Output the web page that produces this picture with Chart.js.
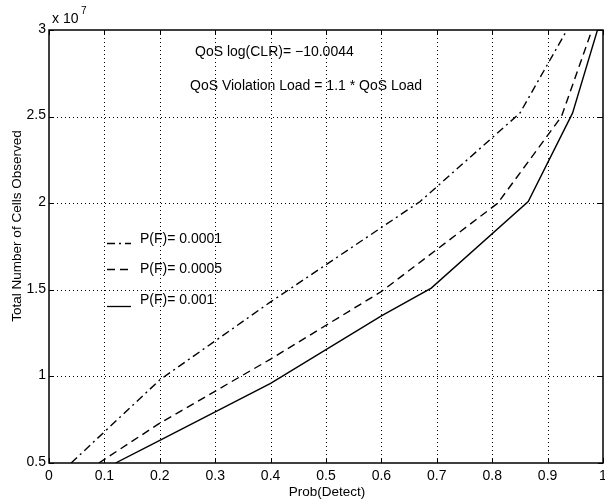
<!DOCTYPE html>
<html>
<head>
<meta charset="utf-8">
<script src="https://cdn.jsdelivr.net/npm/chart.js@4.4.1/dist/chart.umd.min.js"></script>
<style>
  html, body { margin: 0; padding: 0; background: #fff; }
</style>
</head>
<body>
<canvas id="chart" width="605" height="504"></canvas>
<script>
// tick values / labels
const xTicks = [0, 0.1, 0.2, 0.3, 0.4, 0.5, 0.6, 0.7, 0.8, 0.9, 1];
const xTickLabels = ['0', '0.1', '0.2', '0.3', '0.4', '0.5', '0.6', '0.7', '0.8', '0.9', '1'];
const yTicks = [0.5, 1, 1.5, 2, 2.5, 3];
const yTickLabels = ['0.5', '1', '1.5', '2', '2.5', '3'];

// series (cells observed in units of 10^7)
const seriesNames = ['P(F)= 0.0001', 'P(F)= 0.0005', 'P(F)= 0.001'];
const detect0001 = [0.04, 0.2, 0.4, 0.67, 0.85, 0.935];
const cells0001 = [0.5, 0.98, 1.43, 2.01, 2.52, 3.0];
const detect0005 = [0.09, 0.2, 0.4, 0.6, 0.81, 0.925, 0.98];
const cells0005 = [0.5, 0.73, 1.1, 1.49, 2.0, 2.5, 3.0];
const detect001 = [0.12, 0.2, 0.4, 0.6, 0.69, 0.865, 0.945, 0.99];
const cells001 = [0.5, 0.63, 0.96, 1.35, 1.51, 2.01, 2.52, 3.0];

const dashes = [[8, 4, 2, 4], [8, 5], []];
const FONT = '"Liberation Sans", Arial, Helvetica, sans-serif';

function toPoints(xs, ys) {
  return xs.map((x, i) => ({ x: x, y: ys[i] }));
}

const matlabAxes = {
  id: 'matlabAxes',
  beforeDatasetsDraw(chart) {
    const ctx = chart.ctx;
    const a = chart.chartArea;
    const xs = chart.scales.x, ys = chart.scales.y;
    ctx.save();
    ctx.strokeStyle = '#000';
    ctx.lineWidth = 1;
    ctx.setLineDash([1, 3]);
    xTicks.slice(1, -1).forEach(v => {
      const px = Math.round(xs.getPixelForValue(v)) + 0.5;
      ctx.beginPath(); ctx.moveTo(px, a.top); ctx.lineTo(px, a.bottom); ctx.stroke();
    });
    yTicks.slice(1, -1).forEach(v => {
      const py = Math.round(ys.getPixelForValue(v)) + 0.5;
      ctx.beginPath(); ctx.moveTo(a.left, py); ctx.lineTo(a.right, py); ctx.stroke();
    });
    ctx.restore();
  },
  afterDatasetsDraw(chart) {
    const ctx = chart.ctx;
    const a = chart.chartArea;
    const xs = chart.scales.x, ys = chart.scales.y;
    ctx.save();
    ctx.strokeStyle = '#000';
    ctx.setLineDash([]);
    ctx.lineWidth = 1.5;
    ctx.strokeRect(a.left, a.top, a.right - a.left, a.bottom - a.top);
    // inward ticks
    ctx.lineWidth = 1;
    const tl = 5;
    xTicks.forEach(v => {
      const px = Math.round(xs.getPixelForValue(v)) + 0.5;
      ctx.beginPath();
      ctx.moveTo(px, a.bottom); ctx.lineTo(px, a.bottom - tl);
      ctx.moveTo(px, a.top); ctx.lineTo(px, a.top + tl);
      ctx.stroke();
    });
    yTicks.forEach(v => {
      const py = Math.round(ys.getPixelForValue(v)) + 0.5;
      ctx.beginPath();
      ctx.moveTo(a.left, py); ctx.lineTo(a.left + tl, py);
      ctx.moveTo(a.right, py); ctx.lineTo(a.right - tl, py);
      ctx.stroke();
    });

    // tick labels
    ctx.fillStyle = '#000';
    ctx.font = '14px ' + FONT;
    ctx.textAlign = 'center';
    ctx.textBaseline = 'middle';
    xTicks.forEach((v, i) => {
      ctx.fillText(xTickLabels[i], xs.getPixelForValue(v), 476);
    });
    ctx.textAlign = 'right';
    yTicks.forEach((v, i) => {
      ctx.fillText(yTickLabels[i], a.left - 3, ys.getPixelForValue(v) - 1);
    });

    // exponent
    ctx.textAlign = 'left';
    ctx.textBaseline = 'alphabetic';
    ctx.fillText('x 10', 52, 23);
    ctx.font = '10px ' + FONT;
    ctx.fillText('7', 81, 14);

    // axis titles
    ctx.font = '13.5px ' + FONT;
    ctx.textAlign = 'center';
    ctx.textBaseline = 'middle';
    ctx.fillText('Prob(Detect)', 327, 492);
    ctx.save();
    ctx.translate(17, 226);
    ctx.rotate(-Math.PI / 2);
    ctx.fillText('Total Number of Cells Observed', 0, 0);
    ctx.restore();

    // annotations
    ctx.font = '14px ' + FONT;
    ctx.textAlign = 'left';
    ctx.fillText('QoS log(CLR)= \u221210.0044', 195, 52);
    ctx.fillText('QoS Violation Load = 1.1 * QoS Load', 190, 86);

    // legend
    const legendY = [239, 269, 300];
    const sampleY = [243, 269, 306];
    seriesNames.forEach((name, i) => {
      ctx.save();
      ctx.lineWidth = 1.3;
      ctx.setLineDash(dashes[i]);
      ctx.beginPath();
      ctx.moveTo(107, sampleY[i] + 0.5);
      ctx.lineTo(131, sampleY[i] + 0.5);
      ctx.stroke();
      ctx.restore();
      ctx.fillText(name, 140, legendY[i]);
    });
    ctx.restore();
  }
};

new Chart(document.getElementById('chart'), {
  type: 'line',
  data: {
    datasets: [
      { label: seriesNames[0], data: toPoints(detect0001, cells0001), borderDash: dashes[0] },
      { label: seriesNames[1], data: toPoints(detect0005, cells0005), borderDash: dashes[1] },
      { label: seriesNames[2], data: toPoints(detect001, cells001), borderDash: dashes[2] }
    ].map(d => Object.assign(d, {
      borderColor: '#000',
      borderWidth: 1.4,
      pointRadius: 0,
      tension: 0,
      fill: false
    }))
  },
  options: {
    responsive: false,
    animation: false,
    devicePixelRatio: 1,
    layout: { padding: { left: 49, top: 30, right: 2, bottom: 41 } },
    plugins: { legend: { display: false }, tooltip: { enabled: false } },
    scales: {
      x: { type: 'linear', min: 0, max: 1, display: false },
      y: { type: 'linear', min: 0.5, max: 3, display: false }
    }
  },
  plugins: [matlabAxes]
});
</script>
</body>
</html>
